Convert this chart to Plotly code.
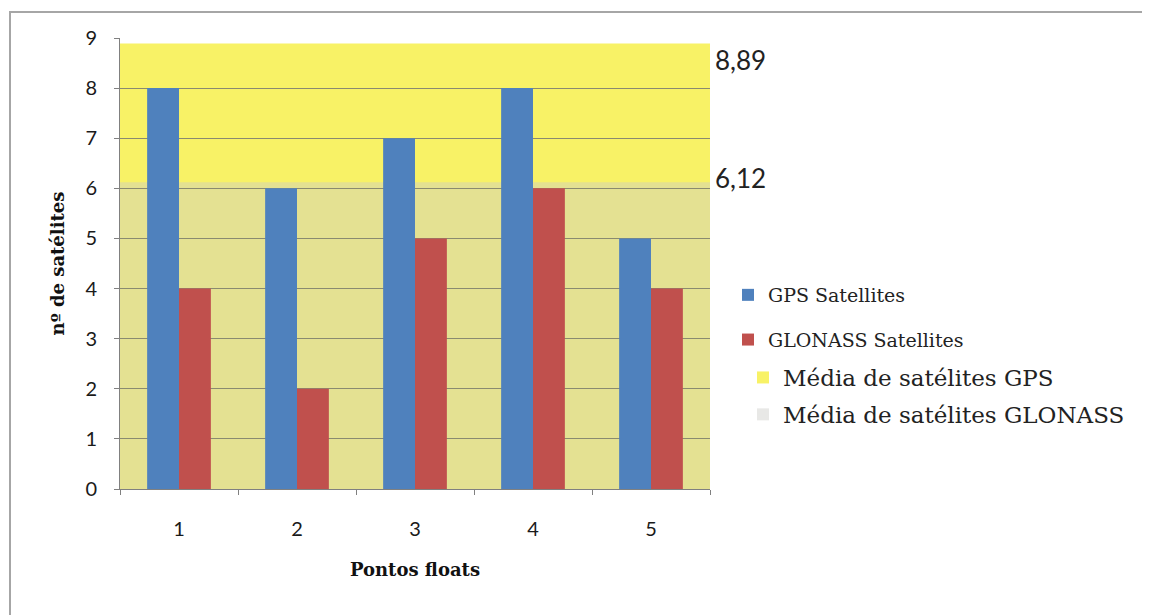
import plotly.graph_objects as go

categories = ["1", "2", "3", "4", "5"]
gps_satellites = [8, 6, 7, 8, 5]
glonass_satellites = [4, 2, 5, 6, 4]
gps_mean = 8.89
glonass_mean = 6.12
gps_mean_label = "8,89"
glonass_mean_label = "6,12"
y_ticks = [0, 1, 2, 3, 4, 5, 6, 7, 8, 9]

# page body has an 8px margin; work in page pixel coords
OFF = 8
W, H = 1150 - OFF, 615 - OFF
PL, PR, PT, PB = 120, 710, 38, 489  # plot area in page pixels
L, T = PL - OFF, PT - OFF
R = W - (PR - OFF)
B = H - (PB - OFF)
pw, ph = PR - PL, PB - PT


def px_x(p):
    return (p - PL) / pw


def px_y(p):
    return (PB - p) / ph


fig = go.Figure()
fig.add_trace(go.Bar(x=categories, y=gps_satellites, name="GPS Satellites",
                     marker=dict(color="#4F81BD", line_width=0),
                     legend="legend", legendgroup="a"))
fig.add_trace(go.Bar(x=categories, y=glonass_satellites, name="GLONASS Satellites",
                     marker=dict(color="#C0504D", line_width=0),
                     legend="legend", legendgroup="b"))

# mean bands
fig.add_shape(type="rect", xref="x domain", yref="y", x0=0, x1=1, y0=0, y1=gps_mean,
              fillcolor="#F8F266", line_width=0, layer="below",
              showlegend=True, name="Média de satélites GPS", legend="legend2",
              legendgroup="c")
fig.add_shape(type="rect", xref="x domain", yref="y", x0=0, x1=1, y0=0, y1=glonass_mean,
              fillcolor="rgba(205,205,200,0.45)", line_width=0, layer="below",
              showlegend=True, name="Média de satélites GLONASS", legend="legend2",
              legendgroup="d")

# outer border (top and left edges visible)
fig.add_shape(type="rect", xref="paper", yref="paper",
              x0=px_x(10), x1=px_x(1175), y0=px_y(640), y1=px_y(12),
              line=dict(color="#A6A6A6", width=2), fillcolor="rgba(0,0,0,0)", layer="above")

fig.add_annotation(x=1, xref="x domain", y=gps_mean, yref="y", text=gps_mean_label,
                   showarrow=False, xanchor="left", yanchor="top", xshift=3, yshift=2,
                   font=dict(family="Lato", size=26, color="#222222"))
fig.add_annotation(x=1, xref="x domain", y=glonass_mean, yref="y", text=glonass_mean_label,
                   showarrow=False, xanchor="left", yanchor="middle", xshift=3, yshift=4,
                   font=dict(family="Lato", size=26, color="#222222"))

fig.update_layout(
    width=W, height=H,
    margin=dict(l=L, r=R, t=T, b=B, autoexpand=False),
    paper_bgcolor="white", plot_bgcolor="white",
    barmode="group", bargap=0.46, bargroupgap=0,
    font=dict(family="DejaVu Serif", color="#222222"),
    legend=dict(x=px_x(728), y=px_y(276), xanchor="left", yanchor="top",
                font=dict(family="DejaVu Serif", size=19, color="#222222"),
                tracegroupgap=17, bgcolor="rgba(0,0,0,0)"),
    legend2=dict(x=px_x(743), y=px_y(356), xanchor="left", yanchor="top",
                 font=dict(family="DejaVu Serif", size=23, color="#222222"),
                 tracegroupgap=4, bgcolor="rgba(0,0,0,0)"),
    showlegend=True,
)

fig.update_xaxes(
    type="category", range=[-0.5, 4.5], tickson="boundaries",
    ticks="outside", ticklen=5, tickcolor="#808080",
    showline=True, linecolor="#808080", linewidth=1,
    showgrid=False, ticklabelstandoff=22,
    tickfont=dict(family="Lato", size=20, color="#1a1a1a"),
    title=dict(text="<b>Pontos floats</b>", standoff=24,
               font=dict(family="DejaVu Serif", size=18, color="#111111")),
)
fig.update_yaxes(
    range=[0, 9], tickvals=y_ticks, ticks="outside", ticklen=5, tickcolor="#808080",
    showline=True, linecolor="#808080", linewidth=1,
    showgrid=True, gridcolor="#8a8a70", gridwidth=1, zeroline=False,
    ticklabelstandoff=13,
    tickfont=dict(family="Lato", size=20, color="#1a1a1a"),
    title=dict(text="<b>nº de satélites</b>", standoff=16,
               font=dict(family="DejaVu Serif", size=18, color="#111111")),
)

fig.write_html("out.html")
